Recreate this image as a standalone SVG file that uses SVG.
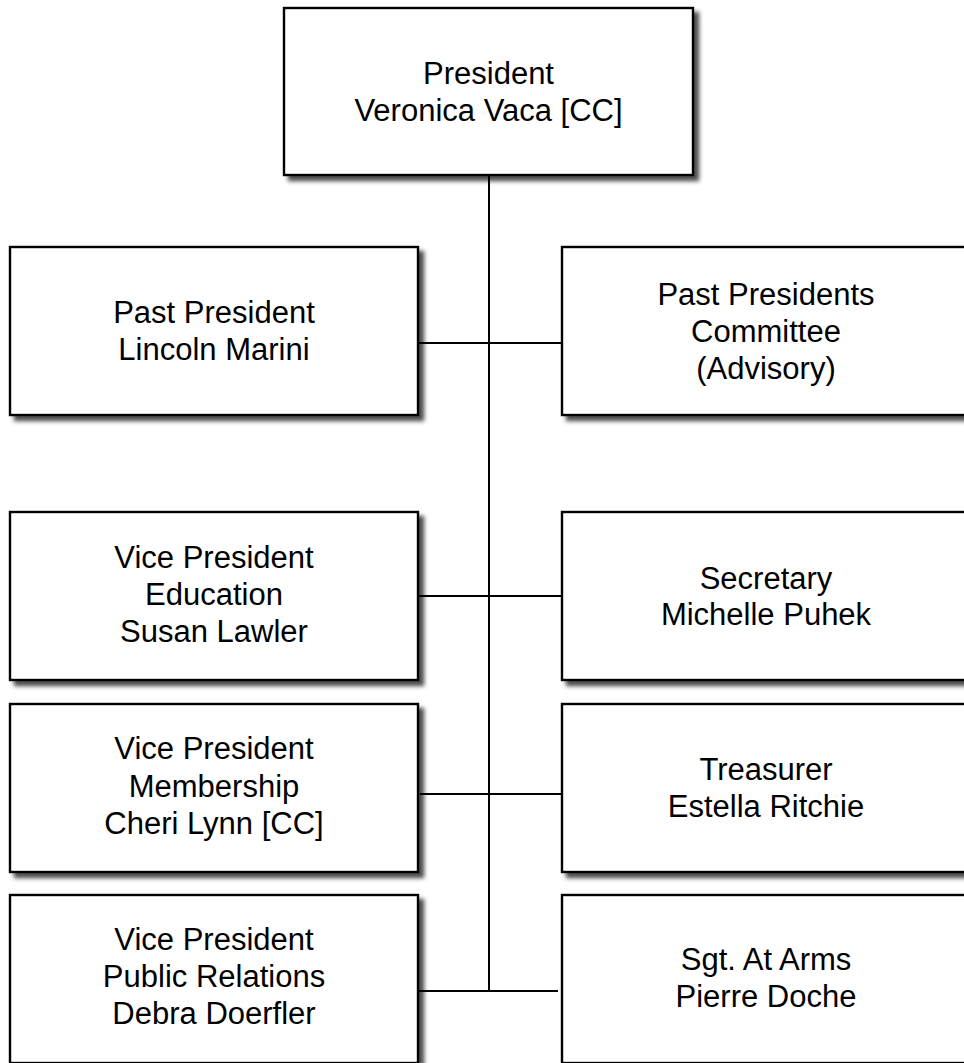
<svg xmlns="http://www.w3.org/2000/svg" width="964" height="1063" viewBox="0 0 964 1063">
<defs>
<filter id="sh" x="-5%" y="-5%" width="115%" height="120%">
<feGaussianBlur in="SourceAlpha" stdDeviation="2.2"/>
<feOffset dx="5" dy="5" result="b"/>
<feFlood flood-color="#000" flood-opacity="0.7"/>
<feComposite in2="b" operator="in"/>
<feMerge><feMergeNode/><feMergeNode in="SourceGraphic"/></feMerge>
</filter>
</defs>
<style>
.box{fill:#fff;stroke:#000;stroke-width:2.4;filter:url(#sh)}
.t{font-family:"Liberation Sans",Arial,Helvetica,sans-serif;font-size:31px;fill:#000;text-anchor:middle}
.c{stroke:#000;stroke-width:2;fill:none}
</style>
<rect width="964" height="1063" fill="#fff"/>
<g id="connectors">
<line class="c" x1="489" y1="175" x2="489" y2="991"/>
<line class="c" x1="418" y1="343" x2="562" y2="343"/>
<line class="c" x1="418" y1="596" x2="562" y2="596"/>
<line class="c" x1="420" y1="794" x2="563" y2="794"/>
<line class="c" x1="417" y1="991" x2="558" y2="991"/>
</g>
<g id="president">
<rect class="box" x="284" y="8" width="409" height="167"/>
<text class="t" x="488.5" y="84">President</text>
<text class="t" x="488.5" y="121">Veronica Vaca [CC]</text>
</g>
<g id="past-president">
<rect class="box" x="10" y="247" width="408" height="168"/>
<text class="t" x="214" y="323">Past President</text>
<text class="t" x="214" y="360">Lincoln Marini</text>
</g>
<g id="past-presidents-committee">
<rect class="box" x="562" y="247" width="408" height="168"/>
<text class="t" x="766" y="305">Past Presidents</text>
<text class="t" x="766" y="342">Committee</text>
<text class="t" x="766" y="379">(Advisory)</text>
</g>
<g id="vp-education">
<rect class="box" x="10" y="512" width="408" height="168"/>
<text class="t" x="214" y="568">Vice President</text>
<text class="t" x="214" y="605">Education</text>
<text class="t" x="214" y="642">Susan Lawler</text>
</g>
<g id="secretary">
<rect class="box" x="562" y="512" width="408" height="168"/>
<text class="t" x="766" y="589">Secretary</text>
<text class="t" x="766" y="625">Michelle Puhek</text>
</g>
<g id="vp-membership">
<rect class="box" x="10" y="704" width="408" height="168"/>
<text class="t" x="214" y="759">Vice President</text>
<text class="t" x="214" y="797">Membership</text>
<text class="t" x="214" y="834">Cheri Lynn [CC]</text>
</g>
<g id="treasurer">
<rect class="box" x="562" y="704" width="408" height="168"/>
<text class="t" x="766" y="780">Treasurer</text>
<text class="t" x="766" y="817">Estella Ritchie</text>
</g>
<g id="vp-public-relations">
<rect class="box" x="10" y="895" width="408" height="168"/>
<text class="t" x="214" y="950">Vice President</text>
<text class="t" x="214" y="987">Public Relations</text>
<text class="t" x="214" y="1024">Debra Doerfler</text>
</g>
<g id="sgt-at-arms">
<rect class="box" x="562" y="895" width="408" height="168"/>
<text class="t" x="766" y="970">Sgt. At Arms</text>
<text class="t" x="766" y="1007">Pierre Doche</text>
</g>
</svg>
